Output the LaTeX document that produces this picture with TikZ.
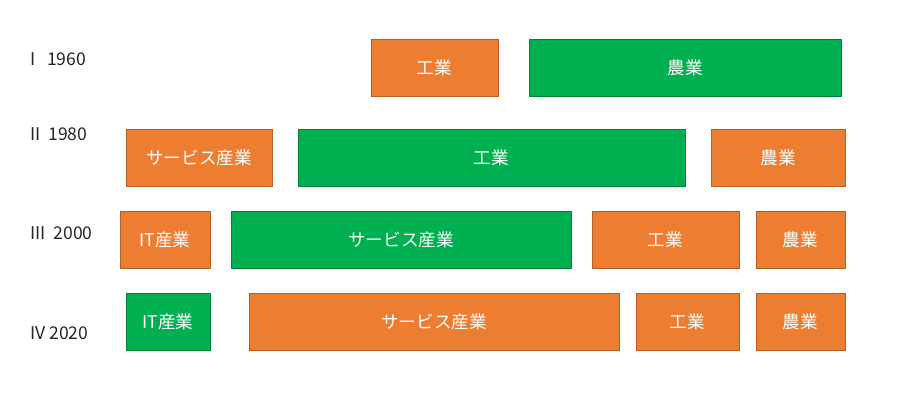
\documentclass[tikz,border=0pt]{standalone}
\usepackage{fontspec}
\setmainfont{Noto Sans CJK JP}
\definecolor{bar orange}{HTML}{ED7D31}
\definecolor{bar green}{HTML}{00B050}
\begin{document}
\begin{tikzpicture}[
    x=0.02cm, y=-0.02cm,
    box/.style={draw, text=white, font=\fontsize{10}{12}\selectfont, inner sep=0pt, minimum height=1.14cm}, % 共通
    orange/.style={box, fill=bar orange, draw=bar orange!75!black},
    green/.style={box, fill=bar green, draw=bar green!75!black},
    year/.style={anchor=west, font=\fontsize{10}{12}\selectfont, text=black!85}
]
    \useasboundingbox (0,0) rectangle (908,410);

    % 年
    \node[year] (y1) at (24,59) {I\ \ \ 1960};
    \node[year] (y2) at (24,134) {II\ \ 1980};
    \node[year] (y3) at (24,233) {III\ \ 2000};
    \node[year] (y4) at (24,333) {IV 2020};

    % 1960
    \node[orange, minimum width=2.54cm] (a1) at (434.5,67.5) {工業};
    \node[green, minimum width=6.24cm] (a2) at (685,67.5) {農業};

    % 1980
    \node[orange, minimum width=2.92cm] (b1) at (199,157.5) {サービス産業};
    \node[green, minimum width=7.74cm] (b2) at (491.5,157.5) {工業};
    \node[orange, minimum width=2.68cm] (b3) at (778,157.5) {農業};

    % 2000
    \node[orange, minimum width=1.8cm] (c1) at (165,239.5) {IT産業};
    \node[green, minimum width=6.8cm] (c2) at (401,239.5) {サービス産業};
    \node[orange, minimum width=2.94cm] (c3) at (665.5,239.5) {工業};
    \node[orange, minimum width=1.78cm] (c4) at (800.5,239.5) {農業};

    % 2020
    \node[green, minimum width=1.68cm] (d1) at (168,321.5) {IT産業};
    \node[orange, minimum width=7.4cm] (d2) at (434,321.5) {サービス産業};
    \node[orange, minimum width=2.06cm] (d3) at (687.5,321.5) {工業};
    \node[orange, minimum width=1.78cm] (d4) at (800.5,321.5) {農業};

\end{tikzpicture}
\end{document}
